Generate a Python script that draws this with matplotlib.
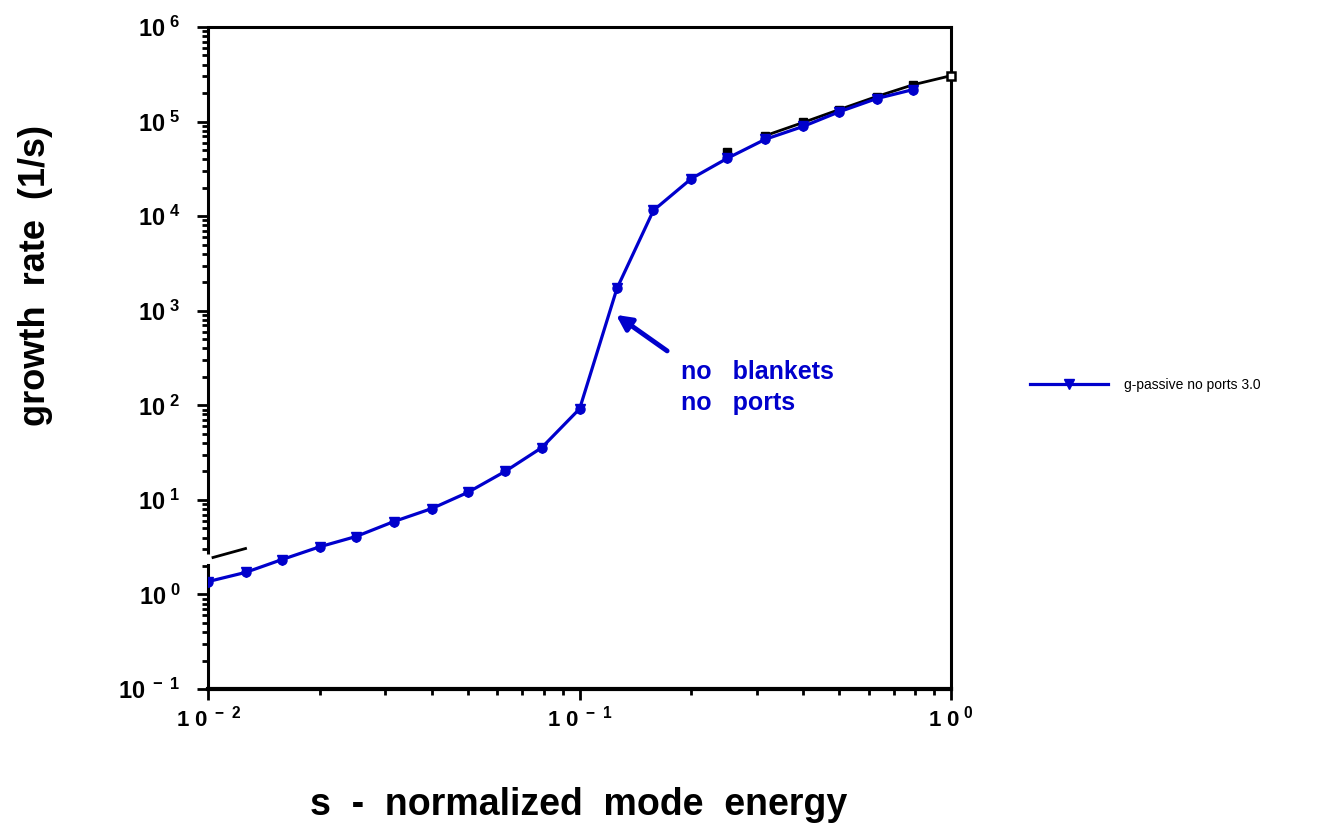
import numpy as np
import matplotlib.pyplot as plt
import matplotlib.ticker as mticker
import matplotlib.transforms as mtransforms

plt.rcParams['font.family'] = ['Liberation Sans', 'DejaVu Sans']
plt.rcParams['font.weight'] = 'bold'
plt.rcParams['mathtext.fontset'] = 'custom'
plt.rcParams['mathtext.rm'] = 'Liberation Sans:bold'
plt.rcParams['mathtext.it'] = 'Liberation Sans:bold'
plt.rcParams['mathtext.bf'] = 'Liberation Sans:bold'
plt.rcParams['mathtext.default'] = 'regular'

# normalized mode energy s
s_blue = [0.01, 0.0126, 0.0158, 0.02, 0.025, 0.0316, 0.04, 0.05, 0.063, 0.079,
          0.1, 0.126, 0.158, 0.2, 0.25, 0.316, 0.4, 0.5, 0.63, 0.79]
# growth rate (1/s), g-passive no ports 3.0
g_blue = [1.37, 1.71, 2.34, 3.2, 4.1, 5.9, 8.1, 12, 20, 35.6,
          92, 1720, 11500, 25000, 41000, 65000, 89000, 127000, 175000, 218000]

# black reference curve (upper end)
s_black = [0.25, 0.316, 0.4, 0.5, 0.63, 0.79, 1.0]
g_black = [48000, 71000, 98000, 134000, 184000, 245000, 306000]

# short black segment at lower left
s_seg = [0.0103, 0.0126]
g_seg = [2.46, 3.06]

blue = '#0000cc'

fig = plt.figure(figsize=(13.18, 8.24), dpi=100)
ax = fig.add_axes([0.158, 0.1638, 0.5636, 0.8034])

ax.plot(s_black[1:], g_black[1:], '-', color='k', lw=2, zorder=2)
ax.plot(s_black[:-1], g_black[:-1], 's', color='k', ms=6, zorder=2)
ax.plot(s_black[-1:], g_black[-1:], 's', color='k', mfc='white', mew=1.8, ms=6,
        zorder=5, clip_on=False)
ax.plot(s_seg, g_seg, '-', color='k', lw=2)

ax.plot(s_blue, g_blue, '-', color=blue, lw=2.3, marker='v', ms=7,
        label='g-passive no ports 3.0', zorder=3)
ax.plot(s_blue, g_blue, 'o', color=blue, ms=6.5, zorder=3)

ax.set_xscale('log')
ax.set_yscale('log')
ax.set_xlim(0.01, 1)
ax.set_ylim(0.1, 1e6)


def xfmt(v, p):
    e = round(np.log10(v))
    return '1 0$^{\\ %s}$' % ('-\\ %d' % -e if e < 0 else '%d' % e)


def yfmt(v, p):
    e = round(np.log10(v))
    return '10$^{\\ %s}$' % ('-\\ %d' % -e if e < 0 else '%d' % e)


ax.xaxis.set_major_formatter(mticker.FuncFormatter(xfmt))
ax.yaxis.set_major_formatter(mticker.FuncFormatter(yfmt))
ax.yaxis.set_major_locator(mticker.LogLocator(base=10, numticks=20))
ax.yaxis.set_minor_locator(mticker.LogLocator(base=10, subs=np.arange(2, 10), numticks=20))
ax.yaxis.set_minor_formatter(mticker.NullFormatter())

ax.tick_params(which='major', direction='out', length=8, width=2)
ax.tick_params(which='minor', direction='out', length=4, width=2)
ax.tick_params(axis='x', pad=4, labelsize=16)
ax.tick_params(axis='y', pad=12, labelsize=17)

for sp in ax.spines.values():
    sp.set_linewidth(2.2)
ax.spines['bottom'].set_linewidth(3)

# broken left axis
ax.spines['left'].set_bounds(0.1, 2.03)
trans = mtransforms.blended_transform_factory(ax.transAxes, ax.transData)
ax.plot([0, 0], [2.71, 1e6], color='k', lw=2.2, transform=trans, clip_on=False,
        solid_capstyle='butt')

ax.set_ylabel('growth  rate  (1/s)', fontsize=26, fontweight='bold')
ax.set_xlabel('s  -  normalized  mode  energy', fontsize=27, fontweight='bold')
ax.yaxis.set_label_coords(-0.232, 0.624)
ax.xaxis.set_label_coords(0.498, -0.175)
ax.yaxis.label.set_verticalalignment('center')
ax.xaxis.label.set_verticalalignment('center')

ax.annotate('', xy=(0.1253, 904), xytext=(0.172, 376),
            arrowprops=dict(arrowstyle='-|>,head_length=0.9,head_width=0.45',
                            color=blue, lw=3.5, shrinkA=0, shrinkB=0))
ax.text(0.1876, 190, 'no   blankets', color=blue, fontsize=18, fontweight='bold')
ax.text(0.1876, 89, 'no   ports', color=blue, fontsize=18, fontweight='bold')

fig.legend(loc='center left', bbox_to_anchor=(0.772, 1 - 385 / 824), frameon=False,
           prop={'size': 10, 'weight': 'normal'}, handlelength=5.6, handletextpad=1.2)

fig.savefig('out.png', dpi=100)
